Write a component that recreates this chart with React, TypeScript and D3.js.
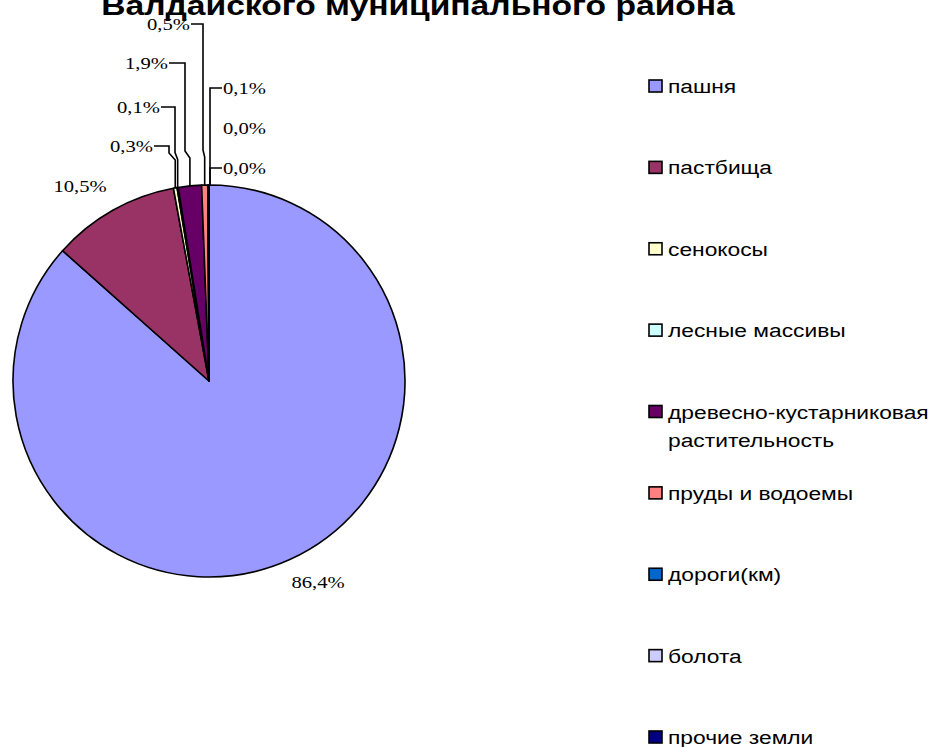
import React from "react";
import * as d3 from "d3";

const categories = [
  "пашня",
  "пастбища",
  "сенокосы",
  "лесные массивы",
  "древесно-кустарниковая растительность",
  "пруды и водоемы",
  "дороги(км)",
  "болота",
  "прочие земли",
];
const values = [86.4, 10.5, 0.3, 0.1, 1.9, 0.5, 0.1, 0.0, 0.0];
const labels = ["86,4%", "10,5%", "0,3%", "0,1%", "1,9%", "0,5%", "0,1%", "0,0%", "0,0%"];
const colors = ["#9999FF", "#993366", "#FFFFCC", "#CCFFFF", "#660066", "#FF8080", "#0066CC", "#CCCCFF", "#000080"];
const legendLines = [["пашня"], ["пастбища"], ["сенокосы"], ["лесные массивы"], ["древесно-кустарниковая", "растительность"], ["пруды и водоемы"], ["дороги(км)"], ["болота"], ["прочие земли"]];

// label layout: [x, y, anchor, leaderElbowX or null]
const labelLayout: [number, number, string, number | null][] = [
  [318, 582, "middle", null],
  [80, 186, "middle", null],
  [153, 146, "end", 169],
  [160, 107, "end", 175],
  [168, 63, "end", 185],
  [190, 24, "end", 203],
  [223, 88, "start", 210],
  [223, 128, "start", null],
  [223, 168, "start", 210],
];

const W = 932, H = 747;
const cx = 209, cy = 381, R = 196;
const SX = 1.2;

export default function App() {
  const pie = d3.pie<number>().sort(null).value((d) => d)(values);
  const arc = d3.arc<d3.PieArcDatum<number>>().innerRadius(0).outerRadius(R);
  const legendY = d3.scalePoint<number>().domain(d3.range(categories.length)).range([86, 737]);

  return (
    <svg width={W} height={H} style={{ position: "absolute", left: 0, top: 0, background: "#fff" }}>
      <text
        transform={`translate(418,15) scale(1.2,1)`}
        textAnchor="middle"
        fontFamily="Liberation Sans, Arial, sans-serif"
        fontWeight="bold"
        fontSize={28}
        fill="#000"
      >
        Валдайского муниципального района
      </text>
      <g transform={`translate(${cx},${cy})`}>
        {pie.map((p, i) => (
          <path key={i} d={arc(p) || ""} fill={colors[i]} stroke="#000" strokeWidth={1.6} strokeLinejoin="round" />
        ))}
      </g>
      {pie.map((p, i) => {
        const [lx, ly, anchor, elbow] = labelLayout[i];
        const mid = (p.startAngle + p.endAngle) / 2;
        const px = cx + R * Math.sin(mid);
        const py = cy - R * Math.cos(mid);
        let line = null;
        if (elbow !== null) {
          const left = anchor === "end";
          const startX = left ? lx + 1 : lx - 1;
          const d = left
            ? `M${startX},${ly} H${elbow} L${elbow},${py - 35} L${px},${py - 28} L${px},${py}`
            : `M${startX},${ly} H${elbow} L${elbow},${py}`;
          line = <path d={d} fill="none" stroke="#000" strokeWidth={1.6} />;
        }
        return (
          <g key={i}>
            {line}
            <text
              transform={`translate(${lx},${ly + 6}) scale(1.25,1)`}
              textAnchor={anchor}
              fontFamily="Liberation Serif, Times New Roman, serif"
              fontSize={16.5}
              fill="#000"
            >
              {labels[i]}
            </text>
          </g>
        );
      })}
      {categories.map((c, i) => {
        const y = legendY(i) as number;
        return (
          <g key={c}>
            <rect x={649} y={y - 6} width={13} height={12} fill={colors[i]} stroke="#000" strokeWidth={1.6} />
            {legendLines[i].map((t, j) => (
              <text
                key={j}
                transform={`translate(668,${y + 7 + j * 28}) scale(${SX},1)`}
                fontFamily="Liberation Sans, Arial, sans-serif"
                fontSize={19}
                fill="#000"
              >
                {t}
              </text>
            ))}
          </g>
        );
      })}
    </svg>
  );
}
